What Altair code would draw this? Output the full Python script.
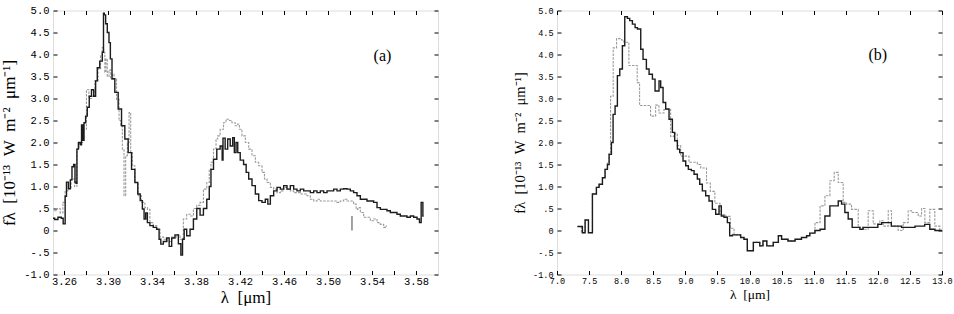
import altair as alt
import pandas as pd

# ---------------- Panel (a): 3.3 micron region ----------------
a_solid_wl = [3.250, 3.253, 3.256, 3.259, 3.2595, 3.2606, 3.2615, 3.263, 3.265, 3.2665,
              3.268, 3.2695, 3.2705, 3.2713, 3.2722, 3.274, 3.2755, 3.2764, 3.2775, 3.2789,
              3.2804, 3.2819, 3.284, 3.286, 3.288, 3.2895, 3.291, 3.294, 3.2956, 3.2962,
              3.2971, 3.2986, 3.3001, 3.3017, 3.3026, 3.3047, 3.3077, 3.3108, 3.3138, 3.3168,
              3.3199, 3.3229, 3.326, 3.3281, 3.3305, 3.332, 3.3336, 3.335, 3.3366, 3.3396,
              3.3427, 3.3457, 3.3472, 3.3488, 3.3518, 3.3548, 3.3564, 3.3594, 3.3624, 3.3655,
              3.367, 3.3685, 3.370, 3.3731, 3.3761, 3.3792, 3.3822, 3.3852, 3.3883, 3.3913,
              3.3928, 3.3944, 3.3974, 3.4004, 3.4035, 3.4041, 3.405, 3.408, 3.4096, 3.4126,
              3.4141, 3.4156, 3.4172, 3.4187, 3.4217, 3.4248, 3.4264, 3.4294, 3.4324, 3.4355,
              3.4385, 3.4415, 3.4445, 3.4461, 3.4491, 3.4521, 3.4552, 3.4582, 3.4612, 3.4642,
              3.4673, 3.4703, 3.4733, 3.4764, 3.4794, 3.4824, 3.4855, 3.4885, 3.4915, 3.4945,
              3.4976, 3.5006, 3.5036, 3.5067, 3.5097, 3.5127, 3.5158, 3.5188, 3.5218, 3.5248,
              3.5279, 3.5309, 3.5339, 3.537, 3.540, 3.543, 3.5461, 3.5491, 3.5521, 3.5551,
              3.5582, 3.5612, 3.5642, 3.5673, 3.5703, 3.5733, 3.5764, 3.5794, 3.5824, 3.5839,
              3.5855, 3.587]
a_solid_flux = [0.28, 0.25, 0.30, 0.28, 0.15, 0.15, 0.78, 1.10, 0.95, 1.15,
                1.45, 1.50, 1.10, 1.07, 1.85, 2.00, 1.95, 2.40, 2.05, 2.45,
                2.60, 2.80, 3.05, 3.20, 3.05, 3.40, 3.70, 3.85, 4.05, 4.94,
                4.90, 4.70, 4.50, 4.27, 3.90, 3.45, 3.14, 2.76, 2.38, 2.08,
                1.77, 1.39, 1.09, 0.83, 0.68, 0.49, 0.26, 0.40, 0.18, 0.11,
                0.07, 0.03, -0.20, -0.31, -0.25, -0.17, -0.36, -0.17, -0.10, -0.30,
                -0.56, -0.20, 0.03, -0.12, 0.03, 0.26, 0.50, 0.35, 0.50, 0.71,
                1.00, 1.39, 1.62, 1.85, 1.92, 1.60, 2.10, 1.85, 2.08, 1.92,
                2.11, 1.77, 2.00, 1.77, 1.60, 1.50, 1.32, 1.17, 1.02, 0.83,
                0.68, 0.64, 0.71, 0.60, 0.79, 0.90, 0.98, 0.94, 1.02, 0.94,
                1.02, 0.94, 0.90, 0.94, 0.90, 0.90, 0.86, 0.90, 0.86, 0.90,
                0.86, 0.90, 0.90, 0.94, 0.90, 0.94, 0.95, 0.94, 0.90, 0.86,
                0.79, 0.71, 0.71, 0.67, 0.67, 0.64, 0.52, 0.48, 0.48, 0.45,
                0.41, 0.41, 0.37, 0.33, 0.33, 0.30, 0.33, 0.30, 0.26, 0.18,
                0.64, 0.33]

a_dotted_wl = [3.251, 3.255, 3.258, 3.260, 3.262, 3.265, 3.268, 3.2713, 3.2722, 3.2752,
               3.2789, 3.2819, 3.2834, 3.2865, 3.2895, 3.2925, 3.294, 3.2956, 3.2965, 3.2977,
               3.2986, 3.3001, 3.3017, 3.3032, 3.3047, 3.3062, 3.3093, 3.3108, 3.3123, 3.3138,
               3.3153, 3.3168, 3.3184, 3.3199, 3.3214, 3.3229, 3.326, 3.329, 3.332, 3.3351,
               3.3366, 3.3396, 3.3427, 3.3457, 3.349, 3.352, 3.356, 3.360, 3.364, 3.367,
               3.370, 3.3731, 3.3761, 3.3792, 3.3822, 3.3852, 3.3883, 3.3913, 3.3928, 3.3944,
               3.3974, 3.399, 3.4004, 3.4035, 3.4065, 3.408, 3.4111, 3.4141, 3.4172, 3.4187,
               3.4202, 3.4233, 3.4264, 3.4294, 3.4324, 3.4355, 3.4385, 3.4415, 3.4430, 3.4461,
               3.4491, 3.4521, 3.4552, 3.4582, 3.4612, 3.4642, 3.4673, 3.4703, 3.4733, 3.4764,
               3.4794, 3.4824, 3.4855, 3.4885, 3.4915, 3.4945, 3.4976, 3.5006, 3.5036, 3.5067,
               3.5097, 3.5127, 3.5158, 3.5188, 3.5218, 3.5248, 3.5264, 3.5279, 3.5309, 3.5339,
               3.537, 3.540, 3.543, 3.5461, 3.5491, 3.5521, 3.5536]
a_dotted_flux = [0.45, 0.50, 0.40, 0.64, 0.90, 0.95, 1.17, 1.00, 1.85, 2.00,
                 2.30, 3.20, 3.00, 3.05, 3.40, 3.67, 3.97, 4.16, 4.05, 3.60,
                 3.90, 3.50, 3.65, 3.44, 3.55, 3.44, 2.98, 2.50, 2.38, 1.85,
                 0.79, 1.70, 2.00, 2.68, 1.77, 1.47, 1.09, 0.79, 0.64, 0.52,
                 0.48, 0.18, 0.11, 0.03, -0.15, -0.20, -0.25, -0.15, -0.10, -0.20,
                 0.26, 0.37, 0.33, 0.50, 0.57, 0.64, 0.94, 1.09, 1.39, 1.55,
                 1.85, 2.08, 2.15, 2.30, 2.45, 2.53, 2.50, 2.45, 2.38, 2.42,
                 2.30, 2.15, 2.00, 1.85, 1.70, 1.55, 1.47, 1.32, 1.17, 1.09,
                 0.98, 0.94, 0.86, 0.90, 0.98, 0.94, 0.90, 0.86, 0.86, 0.83,
                 0.83, 0.79, 0.71, 0.67, 0.71, 0.67, 0.67, 0.67, 0.67, 0.67,
                 0.64, 0.67, 0.71, 0.67, 0.67, 0.60, 0.48, 0.52, 0.41, 0.30,
                 0.30, 0.22, 0.26, 0.18, 0.14, 0.07, 0.10]

# short vertical marker near 3.52 micron
a_marker_wl = [3.5218, 3.5218]
a_marker_flux = [0.33, 0.0]

a_ticks = [3.26, 3.28, 3.30, 3.32, 3.34, 3.36, 3.38, 3.40, 3.42, 3.44,
           3.46, 3.48, 3.50, 3.52, 3.54, 3.56, 3.58]
a_labels = ["3.26", "", "3.30", "", "3.34", "", "3.38", "", "3.42", "",
            "3.46", "", "3.50", "", "3.54", "", "3.58"]

# ---------------- Panel (b): 7-13 micron region ----------------
b_solid_wl = [7.318, 7.396, 7.438, 7.490, 7.552, 7.614, 7.656, 7.708, 7.749, 7.786,
              7.812, 7.848, 7.874, 7.905, 7.941, 7.978, 8.019, 8.056, 8.097, 8.133,
              8.175, 8.217, 8.253, 8.305, 8.341, 8.393, 8.435, 8.487, 8.528, 8.590,
              8.616, 8.653, 8.694, 8.746, 8.798, 8.834, 8.876, 8.912, 8.964, 9.006,
              9.047, 9.094, 9.136, 9.187, 9.224, 9.265, 9.317, 9.369, 9.421, 9.473,
              9.525, 9.561, 9.603, 9.655, 9.691, 9.733, 9.785, 9.862, 9.914, 9.966,
              10.06, 10.16, 10.21, 10.27, 10.37, 10.45, 10.50, 10.60, 10.71, 10.81,
              10.89, 10.94, 11.02, 11.10, 11.175, 11.253, 11.383, 11.435, 11.486, 11.538,
              11.60, 11.72, 11.77, 12.00, 12.06, 12.21, 12.37, 12.58, 12.73, 12.81,
              12.89, 13.00]
b_solid_flux = [0.09, -0.05, 0.24, -0.05, 0.83, 0.98, 1.05, 1.20, 1.39, 1.50,
                1.73, 2.00, 2.64, 2.83, 3.52, 3.67, 4.20, 4.86, 4.82, 4.77,
                4.69, 4.61, 4.58, 4.12, 3.89, 3.67, 3.55, 3.44, 3.17, 3.40,
                3.25, 2.91, 2.76, 2.53, 2.23, 2.04, 1.85, 1.77, 1.58, 1.47,
                1.39, 1.36, 1.28, 1.17, 1.05, 0.90, 0.79, 0.67, 0.48, 0.37,
                0.56, 0.33, 0.30, 0.18, -0.12, -0.10, -0.10, -0.16, -0.20, -0.46,
                -0.27, -0.35, -0.24, -0.35, -0.27, -0.12, -0.20, -0.24, -0.20, -0.16,
                -0.12, -0.06, 0.00, 0.03, 0.33, 0.56, 0.67, 0.60, 0.41, 0.26,
                0.07, 0.03, 0.07, 0.14, 0.18, 0.10, 0.07, 0.10, 0.14, 0.03,
                0.00, 0.00]

b_dotted_wl = [7.318, 7.380, 7.438, 7.490, 7.552, 7.614, 7.656, 7.708, 7.749, 7.786,
               7.812, 7.835, 7.876, 7.928, 8.006, 8.042, 8.12, 8.25, 8.287, 8.458,
               8.537, 8.589, 8.667, 8.771, 8.823, 8.875, 8.927, 9.057, 9.187, 9.24,
               9.33, 9.39, 9.46, 9.54, 9.63, 9.70, 9.76, 9.862, 9.914, 9.966,
               10.06, 10.16, 10.21, 10.27, 10.37, 10.45, 10.50, 10.60, 10.71, 10.81,
               10.89, 10.94, 11.02, 11.10, 11.175, 11.253, 11.32, 11.383, 11.46, 11.51,
               11.59, 11.694, 11.772, 11.85, 11.928, 12.032, 12.084, 12.162, 12.213, 12.317,
               12.395, 12.473, 12.525, 12.629, 12.681, 12.733, 12.81, 12.888, 12.966, 13.00]
b_dotted_flux = [0.09, -0.05, 0.24, -0.05, 0.83, 0.98, 1.05, 1.20, 1.39, 1.55,
                 1.77, 3.05, 4.15, 4.36, 4.33, 4.28, 3.75, 3.36, 2.84, 2.60,
                 2.85, 2.67, 2.75, 2.14, 2.20, 1.93, 1.69, 1.55, 1.50, 1.42,
                 1.08, 0.89, 0.62, 0.36, 0.32, 0.05, -0.10, -0.16, -0.20, -0.46,
                 -0.27, -0.35, -0.24, -0.35, -0.27, -0.12, -0.20, -0.24, -0.20, -0.16,
                 -0.12, -0.06, 0.18, 0.56, 0.79, 1.13, 1.32, 1.09, 0.64, 0.60,
                 0.48, 0.07, 0.03, 0.45, 0.15, 0.22, 0.10, 0.45, 0.10, 0.00,
                 0.18, 0.45, 0.41, 0.33, 0.50, 0.18, 0.48, 0.10, 0.00, 0.00]

b_ticks = [7.0, 7.5, 8.0, 8.5, 9.0, 9.5, 10.0, 10.5, 11.0, 11.5, 12.0, 12.5, 13.0]
b_labels = ["7.0", "7.5", "8.0", "8.5", "9.0", "9.5", "10.0", "10.5", "11.0", "11.5",
            "12.0", "12.5", "13.0"]

y_ticks = [-1.0, -0.5, 0.0, 0.5, 1.0, 1.5, 2.0, 2.5, 3.0, 3.5, 4.0, 4.5, 5.0]
y_labels = ["-1.0", "-.5", "0", ".5", "1.0", "1.5", "2.0", "2.5", "3.0", "3.5", "4.0", "4.5", "5.0"]

SERIF = "Liberation Serif"
MONO = "Liberation Mono"
DARK = "#1c1c1c"
GREY = "#9a9a9a"
SP = "\u2002"
Y_TITLE = f"fλ{SP}[10⁻¹³{SP}W{SP}m⁻²{SP}μm⁻¹]"
X_TITLE = f"λ{SP}[μm]"


def label_expr(values, labels):
    parts = [f"abs(datum.value - ({v})) < 1e-6 ? '{t}'" for v, t in zip(values, labels)]
    return " : ".join(parts) + " : ''"


def panel(solid, dotted, x_domain, x_ticks, x_labels, tag, tag_wl, tag_flux,
          label_size, title_size, y_title_size, width, step, extra=None):
    xs = alt.Scale(domain=x_domain, nice=False, zero=False)
    ys = alt.Scale(domain=[-1, 5], nice=False, zero=False)
    tick = dict(tickSize=4, offset=-4, domain=False, grid=False,
                tickColor="black", tickWidth=1)

    x_main = alt.X("wl:Q", scale=xs, axis=alt.Axis(
        orient="bottom", values=x_ticks, labelExpr=label_expr(x_ticks, x_labels),
        labelFont=MONO, labelFontSize=label_size, labelPadding=2, labelColor="black",
        labelFlush=False, labelOverlap=False,
        title=X_TITLE, titleFont=SERIF, titleFontSize=title_size, titleFontWeight="normal",
        titlePadding=2, titleColor="black", **tick))
    y_main = alt.Y("flux:Q", scale=ys, axis=alt.Axis(
        orient="left", values=y_ticks, labelExpr=label_expr(y_ticks, y_labels),
        labelFont=MONO, labelFontSize=label_size, labelPadding=4, labelColor="black",
        labelFlush=False, labelOverlap=False,
        title=Y_TITLE, titleFont=SERIF, titleFontSize=y_title_size, titleFontWeight="normal",
        titlePadding=5, titleColor="black", **tick))
    x_top = alt.X("wl:Q", scale=xs, axis=alt.Axis(
        orient="top", values=x_ticks, labels=False, title=None, **tick))
    y_right = alt.Y("flux:Q", scale=ys, axis=alt.Axis(
        orient="right", values=y_ticks, labels=False, title=None, **tick))

    grey = alt.Chart(dotted).mark_line(
        interpolate=step, color=GREY, strokeWidth=1.1, strokeDash=[2.5, 1.2]
    ).encode(x=x_main, y=y_main)
    dark = alt.Chart(solid).mark_line(
        interpolate=step, color=DARK, strokeWidth=1.4
    ).encode(x=x_top, y=y_right)
    label = alt.Chart(pd.DataFrame({"wl": [tag_wl], "flux": [tag_flux], "t": [tag]})).mark_text(
        font=SERIF, fontSize=16, color="black", align="center", baseline="middle"
    ).encode(x=alt.X("wl:Q", scale=xs, axis=None), y=alt.Y("flux:Q", scale=ys, axis=None), text="t:N")

    layers = [grey, dark]
    if extra is not None:
        layers.append(alt.Chart(extra).mark_line(color="#555555", strokeWidth=1.1).encode(
            x=alt.X("wl:Q", scale=xs, axis=None), y=alt.Y("flux:Q", scale=ys, axis=None)))
    layers.append(label)
    return alt.layer(*layers).resolve_axis(x="independent", y="independent").properties(
        width=width, height=264)


a_solid = pd.DataFrame({"wl": a_solid_wl, "flux": a_solid_flux})
a_dotted = pd.DataFrame({"wl": a_dotted_wl, "flux": a_dotted_flux})
a_marker = pd.DataFrame({"wl": a_marker_wl, "flux": a_marker_flux})
b_solid = pd.DataFrame({"wl": b_solid_wl, "flux": b_solid_flux})
b_dotted = pd.DataFrame({"wl": b_dotted_wl, "flux": b_dotted_flux})

left = panel(a_solid, a_dotted, [3.25, 3.60], a_ticks, a_labels, "(a)", 3.5495, 3.96,
             label_size=10.5, title_size=17, y_title_size=17, width=385, step="step",
             extra=a_marker)
right = panel(b_solid, b_dotted, [7.0, 13.0], b_ticks, b_labels, "(b)", 12.0, 3.98,
              label_size=8.5, title_size=13.5, y_title_size=14.5, width=385, step="step-after")

chart = alt.hconcat(left, right, spacing=119, bounds="flush").properties(
    padding={"left": 0, "top": 4.5, "right": 0, "bottom": 0}
).configure_view(stroke="black", strokeWidth=1).configure(background="white")

chart.save("out.html", embed_options={"renderer": "svg", "actions": False})
